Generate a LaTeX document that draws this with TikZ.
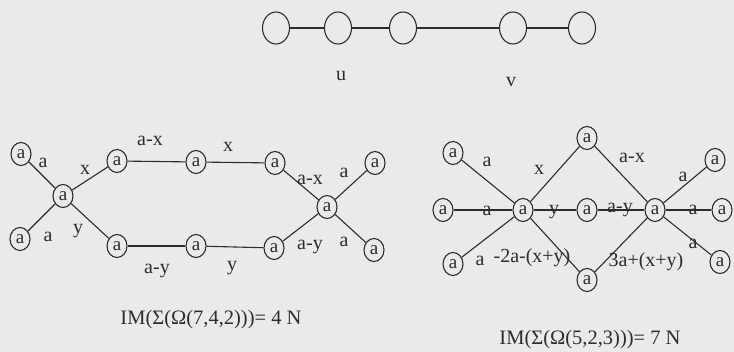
\documentclass[tikz,border=0pt]{standalone}
\usepackage{fontspec}
\setmainfont{Liberation Serif}
\usetikzlibrary{shapes.geometric}
\definecolor{bg}{RGB}{234,234,232}
\definecolor{ink}{RGB}{45,45,45}
\begin{document}
\begin{tikzpicture}[x=1pt,y=-1pt,
  vnode/.style={ellipse, draw=ink, line width=1.1pt, minimum width=20pt, minimum height=23pt, inner sep=0pt, font=\fontsize{19}{19}\selectfont, text=ink},
  bignode/.style={ellipse, draw=ink, line width=1.1pt, minimum width=27pt, minimum height=32pt, inner sep=0pt},
  lbltext/.style={font=\fontsize{20}{20}\selectfont, text=ink, inner sep=0pt},
  captext/.style={font=\fontsize{20.5}{20.5}\selectfont, text=ink, inner sep=0pt},
  conn/.style={draw=ink, line width=1.1pt}]
\fill[bg] (0,0) rectangle (734,352);
\useasboundingbox (0,0) rectangle (734,352);

% top chain
\node[bignode] (t1) at (276,28) {};
\node[bignode] (t2) at (338,28) {};
\node[bignode] (t3) at (403,28) {};
\node[bignode] (t4) at (513,28) {};
\node[bignode] (t5) at (582,28) {};
\draw[conn] (t1) -- (t2);
\draw[conn] (t2) -- (t3);
\draw[conn] (t3) -- (t4);
\draw[conn] (t4) -- (t5);
\node[lbltext] (u) at (341,76) {u};
\node[lbltext] (v) at (511,82) {v};

% left graph
\node[vnode] (ltl) at (21,154) {a};
\node[vnode] (lhub) at (63,196) {a};
\node[vnode] (lbl) at (20,239) {a};
\node[vnode] (lu1) at (117,161) {a};
\node[vnode] (lu2) at (196,162) {a};
\node[vnode] (lu3) at (275,163) {a};
\node[vnode] (ld1) at (117,246) {a};
\node[vnode] (ld2) at (196,246) {a};
\node[vnode] (ld3) at (274,248) {a};
\node[vnode] (rhub) at (327,207) {a};
\node[vnode] (rtr) at (375,163) {a};
\node[vnode] (rbr) at (374,250) {a};
\draw[conn] (ltl) -- (lhub);
\draw[conn] (lbl) -- (lhub);
\draw[conn] (lhub) -- (lu1);
\draw[conn] (lhub) -- (ld1);
\draw[conn] (lu1) -- (lu2);
\draw[conn] (lu2) -- (lu3);
\draw[conn] (ld1) -- (ld2);
\draw[conn] (ld2) -- (ld3);
\draw[conn] (lu3) -- (rhub);
\draw[conn] (ld3) -- (rhub);
\draw[conn] (rhub) -- (rtr);
\draw[conn] (rhub) -- (rbr);
\node[lbltext] (l1) at (43,163) {a};
\node[lbltext] (l2) at (85,170) {x};
\node[lbltext] (l3) at (150,141) {a-x};
\node[lbltext] (l4) at (228,147) {x};
\node[lbltext] (l5) at (310,180) {a-x};
\node[lbltext] (l6) at (344,173) {a};
\node[lbltext] (l7) at (48,237) {a};
\node[lbltext] (l8) at (78,231) {y};
\node[lbltext] (l9) at (157,271) {a-y};
\node[lbltext] (l10) at (232,268) {y};
\node[lbltext] (l11) at (310,247) {a-y};
\node[lbltext] (l12) at (344,242) {a};
\node[captext] (capL) at (211,320) {IM(Σ(Ω(7,4,2)))= 4 N};

% right graph
\node[vnode] (rtl) at (453,153) {a};
\node[vnode] (rl) at (443,210) {a};
\node[vnode] (rbl) at (453,264) {a};
\node[vnode] (hl) at (523,210) {a};
\node[vnode] (mid) at (587,210) {a};
\node[vnode] (hr) at (655,210) {a};
\node[vnode] (topn) at (587,138) {a};
\node[vnode] (botn) at (587,280) {a};
\node[vnode] (rtr2) at (715,160) {a};
\node[vnode] (rr) at (722,210) {a};
\node[vnode] (rbr2) at (720,262) {a};
\draw[conn] (rtl) -- (hl);
\draw[conn] (rl) -- (hl);
\draw[conn] (rbl) -- (hl);
\draw[conn] (hl) -- (topn);
\draw[conn] (hl) -- (mid);
\draw[conn] (hl) -- (botn);
\draw[conn] (mid) -- (hr);
\draw[conn] (topn) -- (hr);
\draw[conn] (botn) -- (hr);
\draw[conn] (hr) -- (rtr2);
\draw[conn] (hr) -- (rr);
\draw[conn] (hr) -- (rbr2);
\node[lbltext] (r1) at (487,162) {a};
\node[lbltext] (r2) at (539,170) {x};
\node[lbltext] (r3) at (632,158) {a-x};
\node[lbltext] (r4) at (683,177) {a};
\node[lbltext] (r5) at (487,211) {a};
\node[lbltext] (r6) at (554,212) {y};
\node[lbltext] (r7) at (620,210) {a-y};
\node[lbltext] (r8) at (693,210) {a};
\node[lbltext] (r9) at (480,261) {a};
\node[lbltext] (r10) at (532,258) {-2a-(x+y)};
\node[lbltext] (r11) at (646,262) {3a+(x+y)};
\node[lbltext] (r12) at (693,244) {a};
\node[captext] (capR) at (590,340) {IM(Σ(Ω(5,2,3)))= 7 N};
\end{tikzpicture}
\end{document}
